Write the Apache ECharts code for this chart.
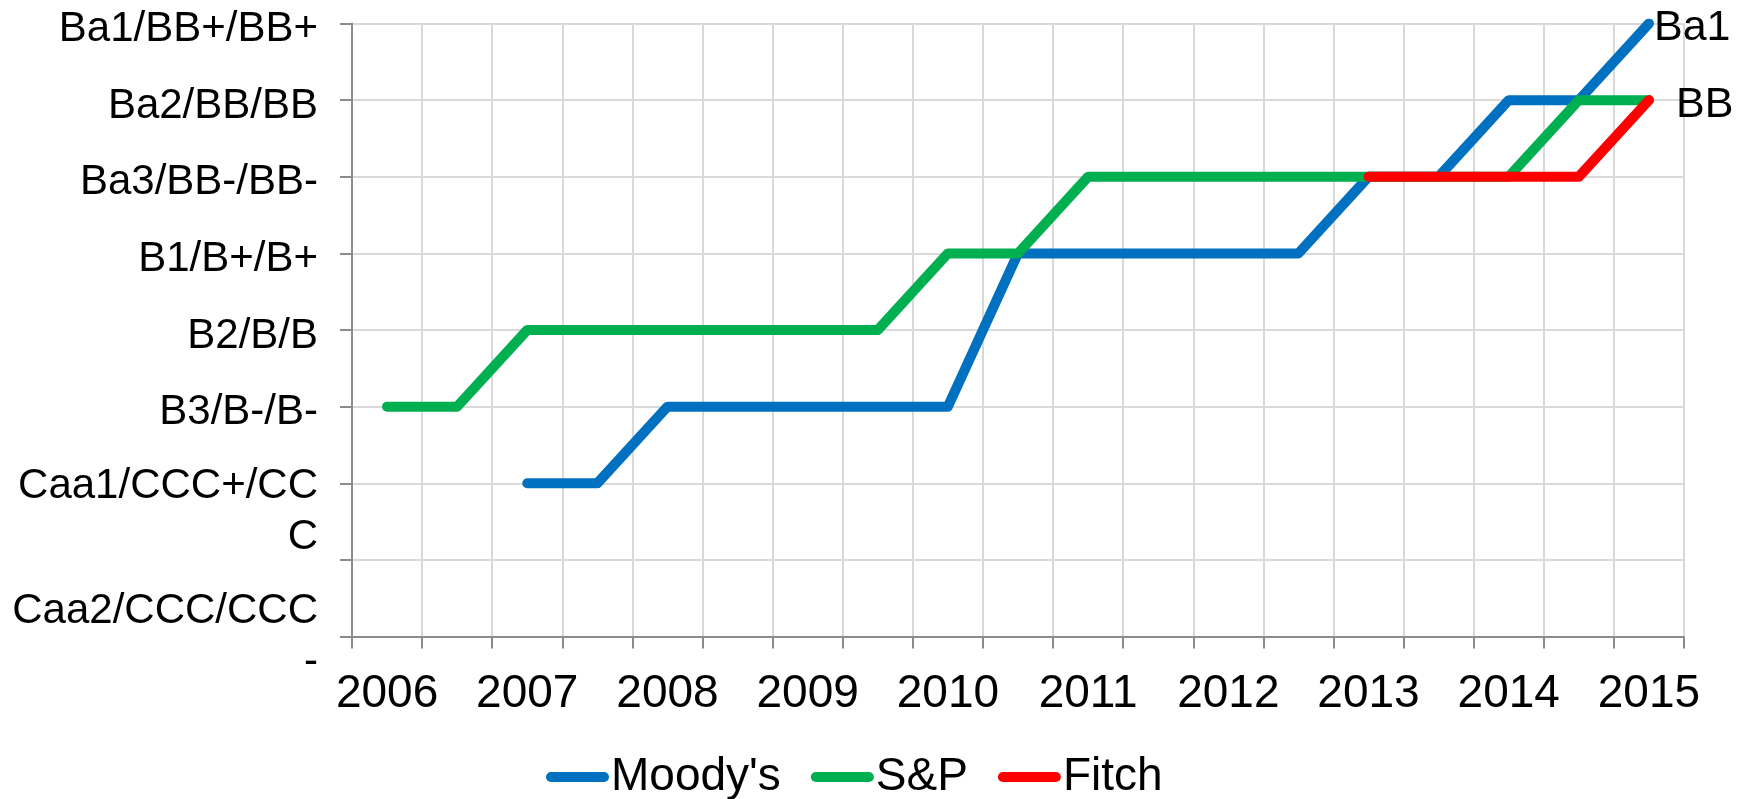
<!DOCTYPE html>
<html>
<head>
<meta charset="utf-8">
<script src="https://cdn.jsdelivr.net/npm/echarts@6/dist/echarts.min.js"></script>
<style>
html,body{margin:0;padding:0;background:#fff;}
#chart{width:1754px;height:799px;}
</style>
</head>
<body>
<div id="chart"></div>
<script>
// Half-year categories, 2006 .. 2015 (labels on every second slot)
var categories = ['2006','2006 H2','2007','2007 H2','2008','2008 H2','2009','2009 H2','2010','2010 H2',
                  '2011','2011 H2','2012','2012 H2','2013','2013 H2','2014','2014 H2','2015'];
// Rating scale (value index -> label lines)
var ratingLabels = [['Caa2/CCC/CCC', '-'], [], ['Caa1/CCC+/CC', 'C'], ['B3/B-/B-'], ['B2/B/B'], ['B1/B+/B+'],
                    ['Ba3/BB-/BB-'], ['Ba2/BB/BB'], ['Ba1/BB+/BB+']];
var moodys = [null,null,2,2,3,3,3,3,3,5,5,5,5,5,6,6,7,7,8];
var sp     = [3,3,4,4,4,4,4,4,5,5,6,6,6,6,6,6,6,7,7];
var fitch  = [null,null,null,null,null,null,null,null,null,null,null,null,null,null,6,6,6,6,7];
var endLabels = {moodys: 'Ba1', fitch: 'BB'};

var FONT = 'Liberation Sans, Arial, sans-serif';
var chart = echarts.init(document.getElementById('chart'), null, {renderer: 'canvas'});

function lineSeries(name, data, color, endLabel, offset) {
  var s = {
    name: name,
    type: 'line',
    data: data,
    showSymbol: false,
    symbol: 'none',
    connectNulls: false,
    animation: false,
    lineStyle: {color: color, width: 10, cap: 'round', join: 'round'},
    itemStyle: {color: color}
  };
  if (endLabel) {
    s.endLabel = {
      show: true,
      formatter: endLabel,
      fontFamily: FONT,
      fontSize: 43,
      color: '#000',
      distance: 5,
      offset: offset
    };
  }
  return s;
}

function yLabel(v) {
  var lines = ratingLabels[Math.round(v)] || [];
  if (!lines.length) return '';
  if (lines.length === 1) return '{g| }\n{t|' + lines[0] + '}';
  if (Math.round(v) === 0) return '{t|' + lines[0] + '}\n{t|' + lines[1] + '}';
  return '{G| }\n{t|' + lines[0] + '}\n{t|' + lines[1] + '}';
}

var capsule = 'path://M5,0 H58 A5,5 0 0 1 58,10 H5 A5,5 0 0 1 5,0 Z';

chart.setOption({
  animation: false,
  backgroundColor: '#fff',
  grid: {left: 352, right: 70, top: 23.5, bottom: 162.5, containLabel: false, outerBoundsMode: 'none'},
  legend: {
    left: 541,
    top: 749,
    itemWidth: 63,
    itemHeight: 11,
    itemGap: 30,
    icon: capsule,
    textStyle: {fontFamily: FONT, fontSize: 46, color: '#000', padding: [0,0,0,-3]},
    data: ["Moody's", 'S&P', 'Fitch']
  },
  xAxis: {
    type: 'category',
    data: categories,
    boundaryGap: true,
    axisLine: {show: true, lineStyle: {color: '#8c8c8c', width: 2}},
    axisTick: {show: true, interval: 0, length: 12, lineStyle: {color: '#8c8c8c', width: 2}},
    splitLine: {show: true, interval: 0, lineStyle: {color: '#d9d9d9', width: 2}},
    axisLabel: {interval: 1, margin: 35, fontFamily: FONT, fontSize: 46, color: '#000',
      formatter: function (v) { return v.slice(0, 4); }}
  },
  yAxis: {
    type: 'value',
    min: 0, max: 8, interval: 1,
    axisLine: {show: true, lineStyle: {color: '#8c8c8c', width: 2}},
    axisTick: {show: true, length: 12, lineStyle: {color: '#8c8c8c', width: 2}},
    splitLine: {show: true, lineStyle: {color: '#d9d9d9', width: 2}},
    axisLabel: {
      margin: 34, fontFamily: FONT, fontSize: 42, color: '#000',
      formatter: yLabel,
      rich: {
        t: {fontFamily: FONT, fontSize: 42, color: '#000', lineHeight: 51, align: 'right'},
        g: {fontFamily: FONT, fontSize: 2, lineHeight: 12, align: 'right'},
        G: {fontFamily: FONT, fontSize: 2, lineHeight: 57, align: 'right'}
      }
    }
  },
  series: [
    lineSeries("Moody's", moodys, '#0070C0', endLabels.moodys, [0, 5]),
    lineSeries('S&P', sp, '#00B050'),
    lineSeries('Fitch', fitch, '#FF0000', endLabels.fitch, [22, 5])
  ]
});
</script>
</body>
</html>
